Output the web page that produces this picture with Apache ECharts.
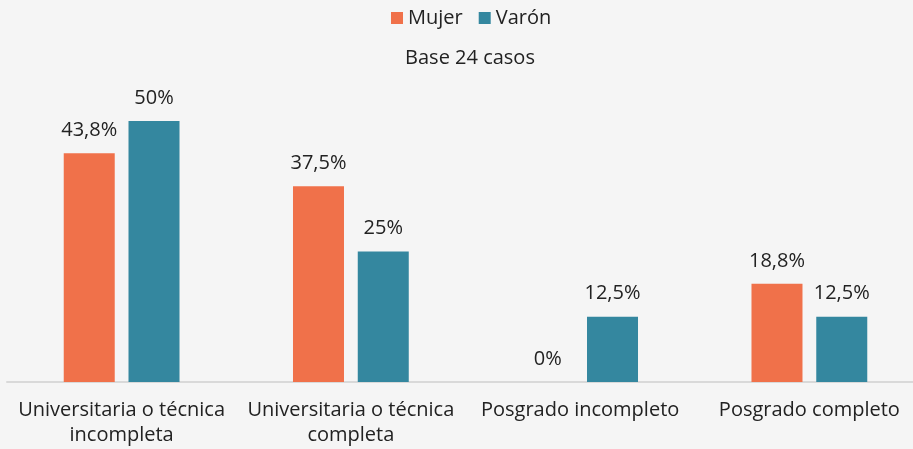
<!DOCTYPE html>
<html><head><meta charset="utf-8">
<script src="https://cdn.jsdelivr.net/npm/echarts@6/dist/echarts.min.js"></script>
<style>html,body{margin:0;padding:0;background:#f5f5f5;}#c{width:913px;height:449px;}</style>
</head><body><div id="c"></div>
<script>
const categories = ['Universitaria o técnica\nincompleta', 'Universitaria o técnica\ncompleta', 'Posgrado incompleto', 'Posgrado completo'];
const mujer = [43.8, 37.5, 0, 18.8];
const varon = [50, 25, 12.5, 12.5];
const seriesNames = ['Mujer', 'Varón'];
const subtitle = 'Base 24 casos';

const FONT = 'Open Sans';
const chart = echarts.init(document.getElementById('c'), null, {renderer: 'canvas'});
const fmt = p => String(p.value).replace('.', ',') + '%';
chart.setOption({
  backgroundColor: '#f5f5f5',
  animation: false,
  textStyle: {fontFamily: FONT, color: '#222'},
  title: {text: subtitle, left: 470, top: 48, padding: 0, textAlign: 'center',
    textStyle: {fontFamily: FONT, fontSize: 20, fontWeight: 'normal', color: '#222'}},
  legend: {data: seriesNames, top: 8, left: 391, padding: 0, itemWidth: 12, itemHeight: 12, itemGap: 16,
    icon: 'rect', textStyle: {fontFamily: FONT, fontSize: 20, color: '#222'}},
  grid: {left: 7, top: 121, width: 917, height: 261, outerBoundsMode: 'none', containLabel: false},
  xAxis: {type: 'category', data: categories,
    axisLine: {lineStyle: {color: '#d9d9d9', width: 2}},
    axisTick: {show: false},
    axisLabel: {fontFamily: FONT, fontSize: 20, color: '#222', lineHeight: 25, margin: 16, interval: 0}},
  yAxis: {type: 'value', min: 0, max: 50, show: false, splitLine: {show: false}},
  series: [
    {name: 'Mujer', type: 'bar', data: mujer, barWidth: 51, barGap: '27%',
      itemStyle: {color: '#f0714a'},
      label: {show: true, position: 'top', distance: 13, formatter: fmt, fontFamily: FONT, fontSize: 20, color: '#222'}},
    {name: 'Varón', type: 'bar', data: varon, barWidth: 51,
      itemStyle: {color: '#34879f'},
      label: {show: true, position: 'top', distance: 13, formatter: fmt, fontFamily: FONT, fontSize: 20, color: '#222'}}
  ]
});
</script></body></html>
